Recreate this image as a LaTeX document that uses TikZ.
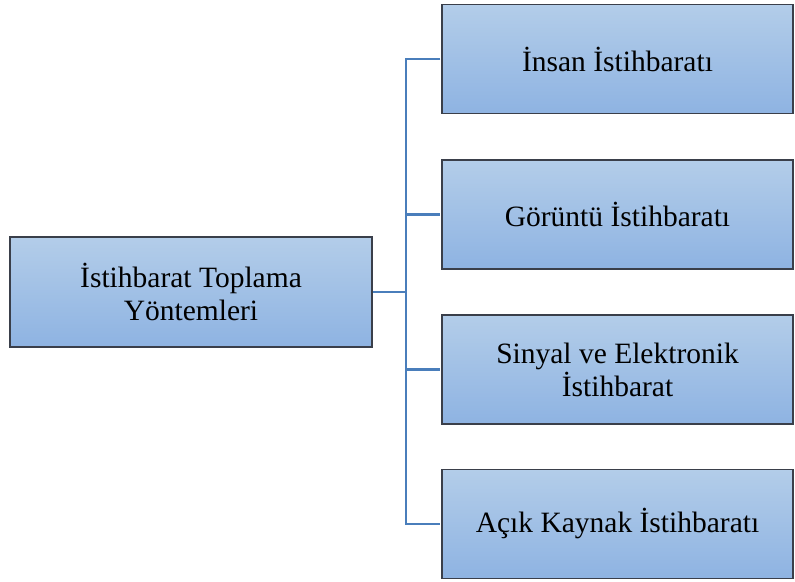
\documentclass[tikz,border=0pt]{standalone}
\usepackage{fontspec}
\setmainfont{Liberation Serif}
\definecolor{boxtop}{HTML}{B3CDE9}
\definecolor{boxbot}{HTML}{8EB3E2}
\definecolor{boxline}{HTML}{3A3F4A}
\definecolor{linkblue}{HTML}{4A7EBB}
\begin{document}
\begin{tikzpicture}[x=1pt,y=-1pt,
  box/.style={draw=boxline,line width=1.5pt,top color=boxtop,bottom color=boxbot,
    font=\fontsize{29.5}{33}\selectfont,align=center,inner sep=0pt},
  link/.style={draw=linkblue,line width=2.8pt}]
\useasboundingbox (0,0) rectangle (795,581);
% root box and the four methods
\node[box,minimum width=362pt,minimum height=110pt] (root) at (191,292) {İstihbarat Toplama\\Yöntemleri};
\node[box,minimum width=351pt,minimum height=109pt] (m1) at (617.5,59) {İnsan İstihbaratı};
\node[box,minimum width=351pt,minimum height=109pt] (m2) at (617.5,214.5) {Görüntü İstihbaratı};
\node[box,minimum width=351pt,minimum height=109pt] (m3) at (617.5,369.5) {Sinyal ve Elektronik\\İstihbarat};
\node[box,minimum width=351pt,minimum height=109pt] (m4) at (617.5,524) {Açık Kaynak İstihbaratı};
% tree connectors
\coordinate (trunk) at (406,292);
\draw[link] (root.east) -- (trunk);
\draw[link] ([xshift=-0.8pt]m1.west) -- (406,59) |- ([xshift=-0.8pt]m4.west);
\draw[link] (trunk |- m2.west) -- ([xshift=-0.8pt]m2.west);
\draw[link] (trunk |- m3.west) -- ([xshift=-0.8pt]m3.west);
\end{tikzpicture}
\end{document}
